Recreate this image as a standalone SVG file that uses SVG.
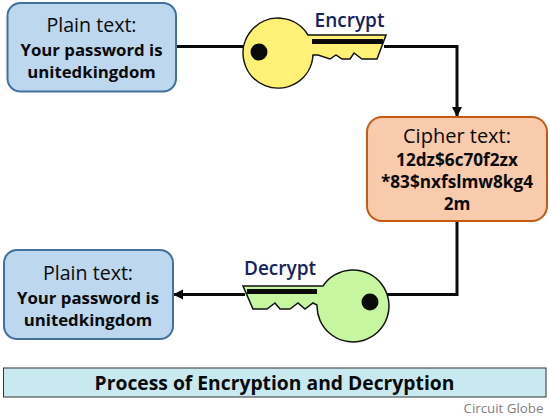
<svg xmlns="http://www.w3.org/2000/svg" width="550" height="416" viewBox="0 0 550 416">
<style>
text{font-family:"Open Sans","Noto Sans","DejaVu Sans",sans-serif;text-anchor:middle;fill:#0a0a0a}
.h{font-size:19.6px}
.b{font-size:16.8px;font-weight:700}
.k{stroke:#111;stroke-width:1.5}
.l{font-size:19px;font-weight:600;fill:#14235e}
.w{fill:none;stroke:#0a0a0a;stroke-width:3}
</style>
<defs><marker id="a" markerUnits="userSpaceOnUse" markerWidth="11" markerHeight="11" refX="10" refY="5" orient="auto"><path d="M0 0L10 5L0 10Z" fill="#0a0a0a"/></marker></defs>
<rect width="550" height="416" fill="#fff"/>
<g id="connectors">
<path class="w" d="M176 46.500H246"/>
<path class="w" d="M384 46.500H457V117" marker-end="url(#a)"/>
<path class="w" d="M457 220V294.500H385"/>
<path class="w" d="M245 294.500H173" marker-end="url(#a)"/>
</g>
<g id="plain-top">
<rect x="7.500" y="3" width="168.500" height="88.500" rx="13" fill="#bdd7ee" stroke="#41719c" stroke-width="2"/>
<text class="h" x="91.500" y="32">Plain text:</text>
<text class="b" x="91.500" y="56">Your password is</text>
<text class="b" x="91.500" y="78">unitedkingdom</text>
</g>
<g id="key-encrypt">
<path class="k" fill="#fff176" d="M308 35H386L377 59H362L354 53L350 59H342L336 55L330 59L318 55L313 55A35 35 0 1 1 308 35Z"/>
<circle cx="259" cy="52" r="8.500" fill="#0a0a0a"/>
<rect x="312" y="39" width="71" height="5" fill="#0a0a0a"/>
<text class="l" x="349.500" y="27">Encrypt</text>
</g>
<g id="cipher">
<rect x="367" y="117" width="180" height="104" rx="15" fill="#f8cbad" stroke="#c55a11" stroke-width="2"/>
<text class="h" x="457" y="143" style="font-size:20px">Cipher text:</text>
<text class="b" x="457" y="166" style="font-size:17.200px">12dz$6c70f2zx</text>
<text class="b" x="457" y="188" style="font-size:17.200px">*83$nxfslmw8kg4</text>
<text class="b" x="457" y="210" style="font-size:17.200px">2m</text>
</g>
<g id="key-decrypt">
<path class="k" fill="#c6f7a0" d="M323 286H243L253 309H267L275 303L280 309H290L298 303L305 309L313 303L317 305A36 36 0 1 0 323 286Z"/>
<circle cx="370" cy="302" r="8.500" fill="#0a0a0a"/>
<rect x="247" y="289" width="70" height="5" fill="#0a0a0a"/>
<text class="l" x="280" y="275">Decrypt</text>
</g>
<g id="plain-bottom">
<rect x="4" y="250" width="169" height="89" rx="13" fill="#bdd7ee" stroke="#41719c" stroke-width="2"/>
<text class="h" x="88" y="280">Plain text:</text>
<text class="b" x="88" y="304">Your password is</text>
<text class="b" x="88" y="326">unitedkingdom</text>
</g>
<g id="title">
<rect x="3.500" y="368" width="542.500" height="29" fill="#c9e9f1" stroke="#333" stroke-width="1"/>
<text x="274.500" y="390" font-size="19.300" font-weight="700">Process of Encryption and Decryption</text>
</g>
<text x="503.500" y="413" font-size="13.300" style="fill:#808080">Circuit Globe</text>
</svg>
